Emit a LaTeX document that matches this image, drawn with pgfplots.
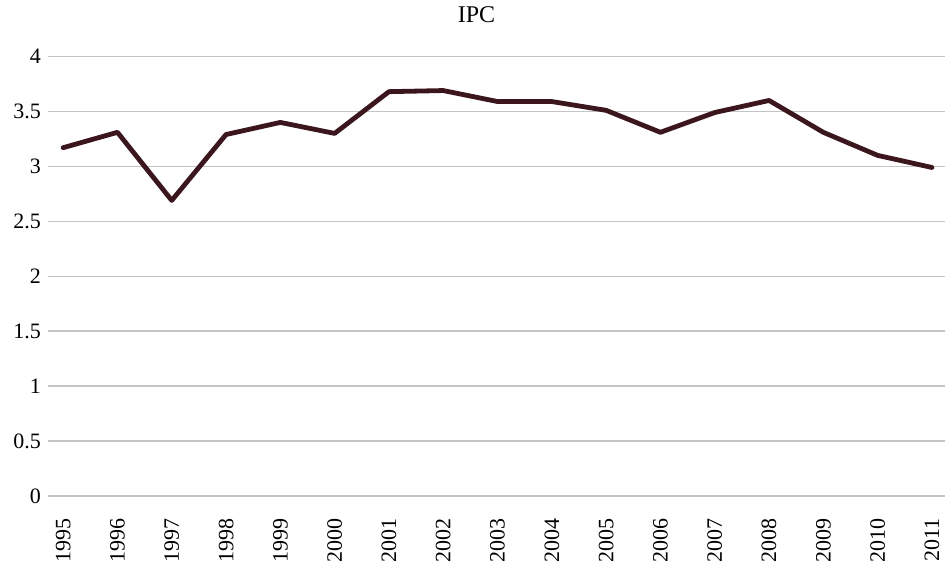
\documentclass[border=0pt]{standalone}
\usepackage{pgfplots}
\pgfplotsset{compat=1.18}
\usepackage{fontspec}
\setmainfont{Liberation Serif}
\definecolor{linec}{HTML}{3B161C}
\definecolor{gridc}{HTML}{C4C4C4}
\begin{document}
\begin{tikzpicture}
\begin{axis}[
  scale only axis, width=449pt, height=220pt,
  xmin=-0.28, xmax=16.24, ymin=0, ymax=4,
  ytick={0,0.5,1,1.5,2,2.5,3,3.5,4},
  xtick={0,...,16},
  xticklabels={1995,1996,1997,1998,1999,2000,2001,2002,2003,2004,2005,2006,2007,2008,2009,2010,2011},
  x tick label style={rotate=90, anchor=east},
  xticklabel shift=7.5pt,
  axis line style={draw=none},
  major tick length=0pt,
  ymajorgrids,
  grid style={gridc, line width=0.75pt},
  tick label style={font=\fontsize{11}{13}\selectfont},
  /pgf/number format/assume math mode=true,
  title={IPC},
  title style={font=\fontsize{12}{14}\selectfont, at={(0.5,1)}, anchor=base, yshift=11pt, xshift=-10pt},
  clip=false,
]
\addplot[color=linec, line width=2.4pt, line join=round, line cap=round] coordinates {
(0,3.17) (1,3.31) (2,2.69) (3,3.29) (4,3.40) (5,3.30) (6,3.68) (7,3.69)
(8,3.59) (9,3.59) (10,3.51) (11,3.31) (12,3.49) (13,3.60) (14,3.31) (15,3.10) (16,2.99)
};
\end{axis}
\path (current axis.south west) ++(-24pt,-32.5pt);
\path (current axis.north east) ++(0pt,27pt);
\end{tikzpicture}
\end{document}
